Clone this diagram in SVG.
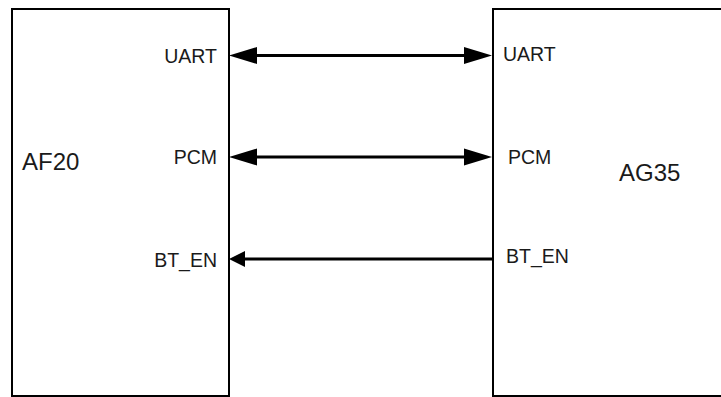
<svg xmlns="http://www.w3.org/2000/svg" width="721" height="397" viewBox="0 0 721 397">
<style>
.box{fill:#fff;stroke:#000;stroke-width:2}
.t{font-family:"Liberation Sans",Arial,sans-serif;fill:#1a1a1a}
.port{font-size:19.5px}
.big{font-size:24px}
.ln{stroke:#000;stroke-width:3;fill:none}
.hd{fill:#000}
</style>
<rect width="721" height="397" fill="#fff"/>
<g id="AF20">
<rect class="box" x="12" y="9" width="217" height="387"/>
<text class="t big" x="22" y="170">AF20</text>
<text class="t port" x="217" y="62.5" text-anchor="end">UART</text>
<text class="t port" x="217" y="164" text-anchor="end">PCM</text>
<text class="t port" x="217" y="267" text-anchor="end">BT_EN</text>
</g>
<g id="AG35">
<rect class="box" x="493" y="9" width="240" height="387"/>
<text class="t big" x="619" y="181">AG35</text>
<text class="t port" x="503" y="61">UART</text>
<text class="t port" x="508" y="164">PCM</text>
<text class="t port" x="506" y="263">BT_EN</text>
</g>
<g id="connectors">
<line class="ln" x1="250" y1="55.5" x2="472" y2="55.5"/>
<polygon class="hd" points="229,55.5 257,47 257,64"/>
<polygon class="hd" points="492,55.5 464,47 464,64"/>
<line class="ln" x1="250" y1="157" x2="472" y2="157"/>
<polygon class="hd" points="229,157 257,148.5 257,165.5"/>
<polygon class="hd" points="492,157 464,148.5 464,165.5"/>
<line class="ln" x1="240" y1="259" x2="493" y2="259"/>
<polygon class="hd" points="229,259 245,251 245,267"/>
</g>
</svg>
